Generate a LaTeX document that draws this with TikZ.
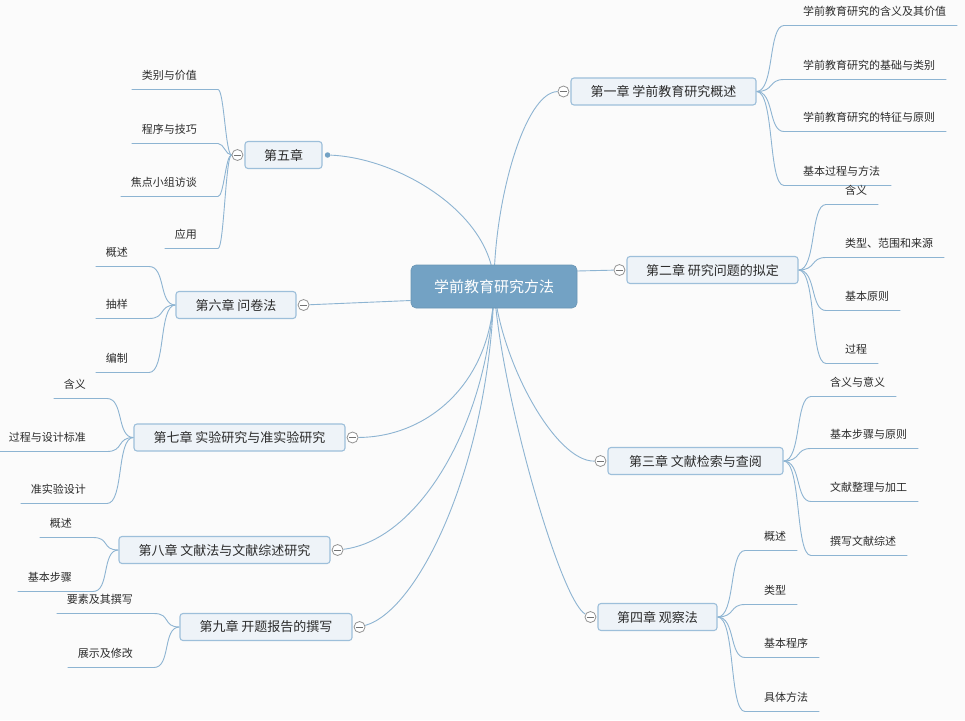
\documentclass[tikz,border=0pt]{standalone}
\usepackage{fontspec}
\setmainfont{Noto Sans CJK SC}
\usetikzlibrary{calc,backgrounds}
\definecolor{bgc}{HTML}{FBFBFB}
\definecolor{linec}{HTML}{8DB4D2}
\definecolor{boxfill}{HTML}{EEF3F8}
\definecolor{boxline}{HTML}{9DBFDA}
\definecolor{rootfill}{HTML}{73A2C4}
\definecolor{txt}{HTML}{2B2B2B}
\newcommand\rlink[2]{\draw[conn] (#1.east) .. controls +(18,0) and +(-16,0) .. ($(#2.west)+(-19,14.5)$) -- ($(#2.east)+(11,14.5)$);}
\newcommand\llink[3][17]{\draw[conn] (#2.west) .. controls +(-#1,0) and +(#1,0) .. ($(#3.east)+(21,14.5)$) -- ($(#3.west)+(-10,14.5)$);}
\begin{document}
\begin{tikzpicture}[x=1pt,y=-1pt,
 rootbox/.style={rounded corners=5pt, fill=rootfill, draw=rootfill!92!black, line width=0.6pt, text=white, font=\fontsize{15}{18}\selectfont, minimum width=166pt, minimum height=43pt, inner sep=0},
 chap/.style={rounded corners=3pt, fill=boxfill, draw=boxline, line width=1.1pt, text=txt, font=\fontsize{13}{15}\selectfont, minimum height=27pt, inner xsep=0, inner ysep=0},
 leafR/.style={anchor=west, inner sep=0, text=txt, font=\fontsize{11}{13}\selectfont},
 leafL/.style={anchor=east, inner sep=0, text=txt, font=\fontsize{11}{13}\selectfont},
 tog/.style={circle, draw=black!42, fill=white, line width=0.8pt, minimum size=11pt, inner sep=0, path picture={\draw[black!55, line width=0.8pt] ([xshift=-3.5pt]path picture bounding box.center) -- ([xshift=3.5pt]path picture bounding box.center);}},
 dotn/.style={circle, fill=rootfill, minimum size=5.5pt, inner sep=0},
 conn/.style={draw=linec, line width=0.9pt}
]
\useasboundingbox (0,0) rectangle (965,720);

% root
\node[rootbox] (root) at (494,286.5) {学前教育研究方法};

% chapters
\node[chap, minimum width=185pt] (c1) at (663.5,91.5) {第一章 学前教育研究概述};
\node[chap, minimum width=171pt] (c2) at (712.5,270) {第二章 研究问题的拟定};
\node[chap, minimum width=175pt] (c3) at (695.5,461) {第三章 文献检索与查阅};
\node[chap, minimum width=119pt] (c4) at (657.5,617) {第四章 观察法};
\node[chap, minimum width=77pt] (c5) at (283.5,155) {第五章};
\node[chap, minimum width=120pt] (c6) at (236,305) {第六章 问卷法};
\node[chap, minimum width=211pt] (c7) at (239.5,437.5) {第七章 实验研究与准实验研究};
\node[chap, minimum width=211pt] (c8) at (224.5,550) {第八章 文献法与文献综述研究};
\node[chap, minimum width=172pt] (c9) at (266,627) {第九章 开题报告的撰写};

% toggles
\node[tog] (k1) at ($(c1.west)+(-7,0)$) {};
\node[tog] (k2) at ($(c2.west)+(-7,0)$) {};
\node[tog] (k3) at ($(c3.west)+(-7,0)$) {};
\node[tog] (k4) at ($(c4.west)+(-7,0)$) {};
\node[tog] (k5) at ($(c5.west)+(-7,0)$) {};
\node[tog] (k6) at ($(c6.east)+(7,0)$) {};
\node[tog] (k7) at ($(c7.east)+(7,0)$) {};
\node[tog] (k8) at ($(c8.east)+(7,0)$) {};
\node[tog] (k9) at ($(c9.east)+(7,0)$) {};
\node[dotn] (d5) at ($(c5.east)+(5,0)$) {};

% leaves right
\node[leafR] (l11) at (803,11) {学前教育研究的含义及其价值};
\node[leafR] (l12) at (803,65) {学前教育研究的基础与类别};
\node[leafR] (l13) at (803,117) {学前教育研究的特征与原则};
\node[leafR] (l14) at (803,171) {基本过程与方法};
\node[leafR] (l21) at (845,190) {含义};
\node[leafR] (l22) at (845,243) {类型、范围和来源};
\node[leafR] (l23) at (845,296) {基本原则};
\node[leafR] (l24) at (845,349) {过程};
\node[leafR] (l31) at (830,382) {含义与意义};
\node[leafR] (l32) at (830,434) {基本步骤与原则};
\node[leafR] (l33) at (830,487) {文献整理与加工};
\node[leafR] (l34) at (830,541) {撰写文献综述};
\node[leafR] (l41) at (764,536) {概述};
\node[leafR] (l42) at (764,590) {类型};
\node[leafR] (l43) at (764,643) {基本程序};
\node[leafR] (l44) at (764,697) {具体方法};
% leaves left
\node[leafL] (l51) at (197,75) {类别与价值};
\node[leafL] (l52) at (197,129) {程序与技巧};
\node[leafL] (l53) at (197,182) {焦点小组访谈};
\node[leafL] (l54) at (197,234) {应用};
\node[leafL] (l61) at (128,252) {概述};
\node[leafL] (l62) at (128,304) {抽样};
\node[leafL] (l63) at (128,358) {编制};
\node[leafL] (l71) at (86,384) {含义};
\node[leafL] (l72) at (86,437) {过程与设计标准};
\node[leafL] (l73) at (86,489) {准实验设计};
\node[leafL] (l81) at (72,523) {概述};
\node[leafL] (l82) at (72,577) {基本步骤};
\node[leafL] (l91) at (133,599) {要素及其撰写};
\node[leafL] (l92) at (133,653) {展示及修改};

\begin{scope}[on background layer]
\fill[bgc] (0,0) rectangle (965,720);
% main connectors
\draw[conn] (root.center) .. controls (494,200) and (525,92) .. (k1);
\draw[conn] ($(root.east)+(0,-15.5)$) -- (k2);
\draw[conn] (root.center) .. controls (500,360) and (555,462) .. (k3);
\draw[conn] (root.center) .. controls (500,390) and (560,600) .. (k4);
\draw[conn] (root.center) .. controls (494,215) and (400,158) .. (d5);
\draw[conn] ($(root.west)+(0,14)$) -- (k6);
\draw[conn] (root.center) .. controls (494,380) and (430,437) .. (k7);
\draw[conn] (root.center) .. controls (490,420) and (420,540) .. (k8);
\draw[conn] (root.center) .. controls (490,460) and (420,610) .. (k9);
% leaf connectors
\rlink{c1}{l11}\rlink{c1}{l12}\rlink{c1}{l13}\rlink{c1}{l14}
\rlink{c2}{l21}\rlink{c2}{l22}\rlink{c2}{l23}\rlink{c2}{l24}
\rlink{c3}{l31}\rlink{c3}{l32}\rlink{c3}{l33}\rlink{c3}{l34}
\rlink{c4}{l41}\rlink{c4}{l42}\rlink{c4}{l43}\rlink{c4}{l44}
\llink[6]{k5}{l51}\llink[6]{k5}{l52}\llink[6]{k5}{l53}\llink[6]{k5}{l54}
\llink{c6}{l61}\llink{c6}{l62}\llink{c6}{l63}
\llink{c7}{l71}\llink{c7}{l72}\llink{c7}{l73}
\llink{c8}{l81}\llink{c8}{l82}
\llink{c9}{l91}\llink{c9}{l92}
\end{scope}
\end{tikzpicture}
\end{document}
